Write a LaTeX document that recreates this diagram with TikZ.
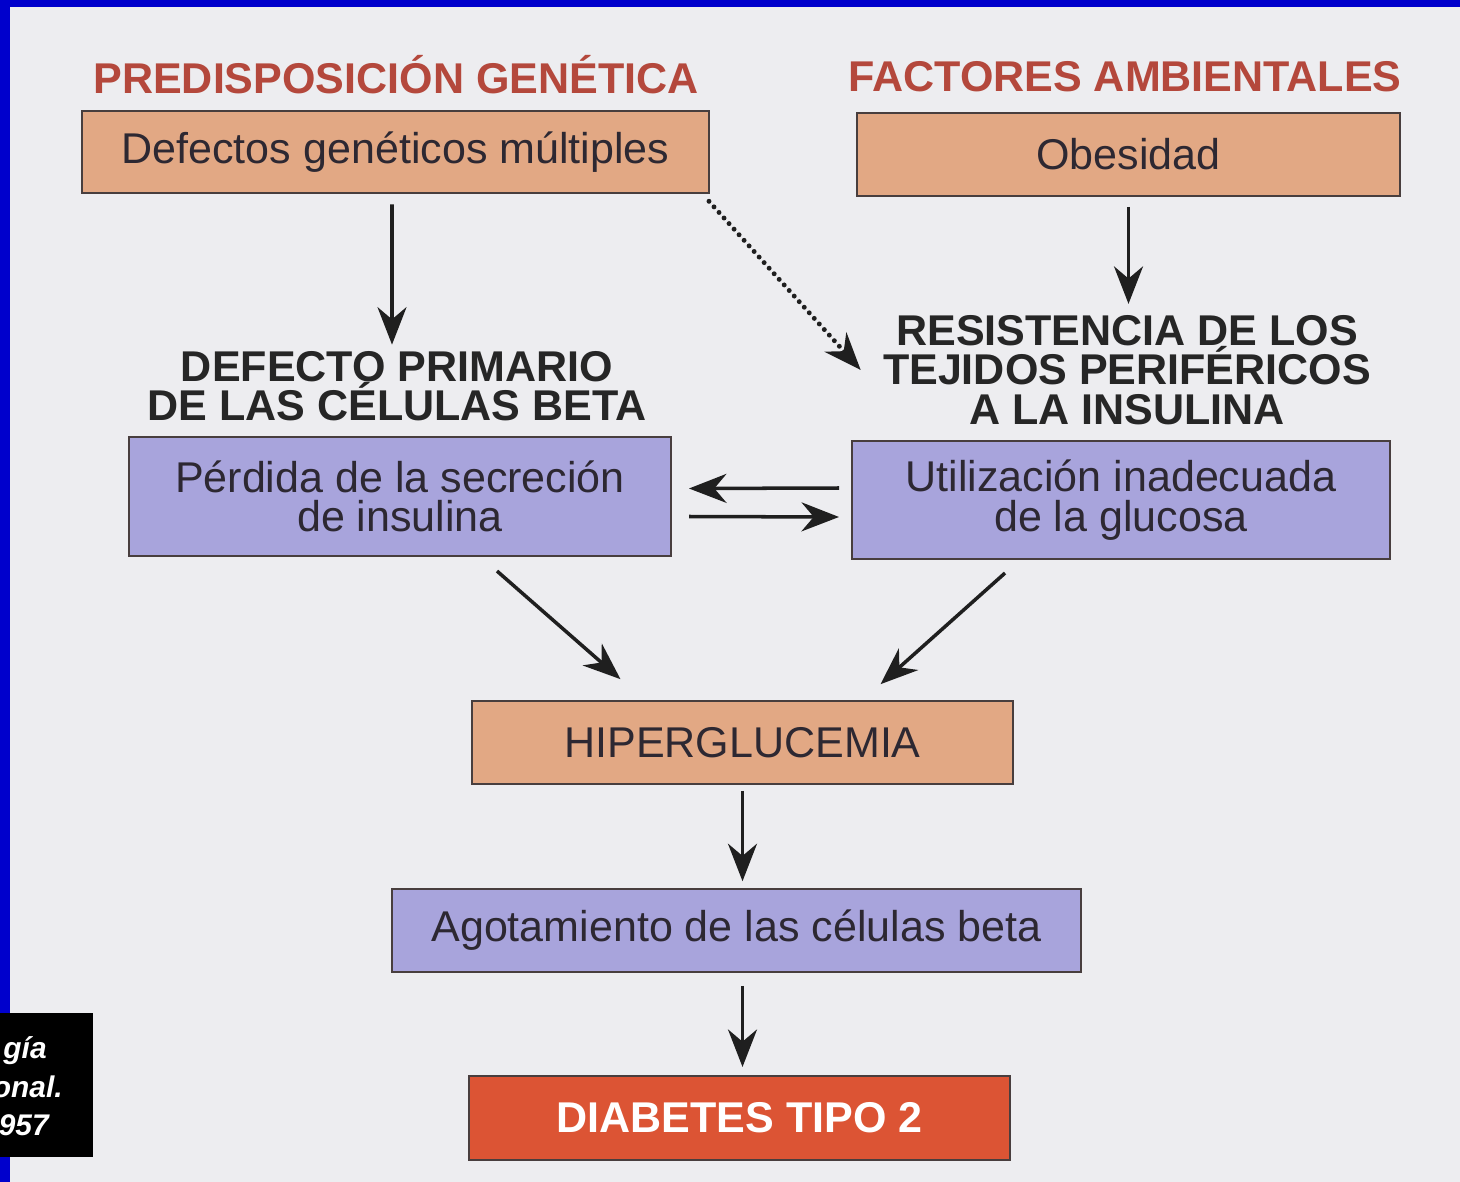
\documentclass[tikz,border=0pt]{standalone}
\usepackage{fontspec}
\setmainfont{Liberation Sans}
\usepackage{tikz}
\usetikzlibrary{arrows.meta}
\usetikzlibrary{calc}
\definecolor{mytan}{RGB}{226,168,132}
\definecolor{mypurple}{RGB}{168,164,220}
\definecolor{myred}{RGB}{220,84,52}
\definecolor{mytitlered}{RGB}{180,72,60}
\definecolor{mybg}{RGB}{237,237,240}
\definecolor{myblue}{RGB}{0,0,204}
\definecolor{myborder}{RGB}{72,62,62}
\definecolor{mytext}{RGB}{45,40,50}
\newcommand{\textsize}{\fontsize{24.5}{22.5}\selectfont}
\tikzset{
    common/.style={draw=myborder, line width=1.2pt, rectangle, minimum height=1.65cm, align=center, font=\textsize, text=mytext},
    tanbox/.style={common, fill=mytan},
    purplebox/.style={common, fill=mypurple},
    redbox/.style={common, fill=myred, text=white, font=\textsize\bfseries},
    heading/.style={font=\textsize\bfseries, align=center, inner sep=0pt, text=black!85},
    arr/.style={-{Stealth[length=0.75cm, width=0.58cm]}, line width=2pt, black!88},
    dotarr/.style={arr, dash pattern=on 0pt off 0.15cm, line cap=round, line width=2.8pt},
    credit/.style={anchor=base east, inner sep=0pt, text=white, font=\fontsize{17}{17}\selectfont\bfseries\itshape}
}
\begin{document}
\begin{tikzpicture}[x=0.02cm, y=-0.02cm]
    % page, border and background
    \useasboundingbox (0,0) rectangle (1460,1182);
    \fill[mybg] (0,0) rectangle (1460,1182);
    \fill[myblue] (0,0) rectangle (1460,7);
    \fill[myblue] (0,0) rectangle (10,1182);

    % headings
    \node[heading, text=mytitlered] (predisposicion) at (396,75) {PREDISPOSICIÓN GENÉTICA};
    \node[heading, text=mytitlered] (factores) at (1125,77) {FACTORES AMBIENTALES};
    \node[heading] (primario) at (397,386) {DEFECTO PRIMARIO\\DE LAS CÉLULAS BETA};
    \node[heading] (resistencia) at (1127,370) {RESISTENCIA DE LOS\\TEJIDOS PERIFÉRICOS\\A LA INSULINA};

    % boxes
    \node[tanbox, minimum width=12.54cm] (defectos) at (395.5,152) {Defectos genéticos múltiples};
    \node[tanbox, minimum width=10.86cm] (obesidad) at (1128.5,154.5) {Obesidad};
    \node[purplebox, minimum width=10.84cm, minimum height=2.38cm] (perdida) at (400,496.5) {Pérdida de la secreción\\de insulina};
    \node[purplebox, minimum width=10.76cm, minimum height=2.36cm] (utilizacion) at (1121,500) {Utilización inadecuada\\de la glucosa};
    \node[tanbox, minimum width=10.82cm] (hiper) at (742.5,742.5) {HIPERGLUCEMIA};
    \node[purplebox, minimum width=13.78cm] (agotamiento) at (736.5,930.5) {Agotamiento de las células beta};
    \node[redbox, minimum width=10.82cm, minimum height=1.68cm] (diabetes) at (739.5,1118) {DIABETES TIPO 2};

    % arrows
    \draw[arr] ([xshift=-0.07cm, yshift=-0.2cm]defectos.south) -- ([xshift=-0.1cm, yshift=0.12cm]primario.north);
    \draw[dotarr] ([xshift=-0.02cm, yshift=-0.14cm]defectos.south east) -- ($(resistencia.west)+(-22,0)$);
    \draw[arr, shorten <=0.2cm, shorten >=0.22cm] (obesidad.south) -- (obesidad.south |- resistencia.north);
    \draw[arr] ($(utilizacion.west)+(-12,-12)$) -- ($(perdida.east)+(17,-8)$);
    \draw[arr] ($(perdida.east)+(17,20)$) -- ($(utilizacion.west)+(-12,17)$);
    \draw[arr] ($(perdida.south)+(97,14)$) -- ($(hiper.north)+(-122,-21)$);
    \draw[arr] ($(utilizacion.south)+(-116,13)$) -- ($(hiper.north)+(138,-16)$);
    \draw[arr, shorten <=0.12cm, shorten >=0.14cm] (hiper.south) -- (hiper.south |- agotamiento.north);
    \draw[arr, shorten <=0.26cm, shorten >=0.16cm] (hiper.south |- agotamiento.south) -- (hiper.south |- diabetes.north);

    % cut-off credit
    \fill[black] (0,1013) rectangle (93,1157);
    \node[credit] (creditA) at (47,1058) {gía};
    \node[credit] (creditB) at (63,1097) {onal.};
    \node[credit] (creditC) at (49,1135) {957};
\end{tikzpicture}
\end{document}
